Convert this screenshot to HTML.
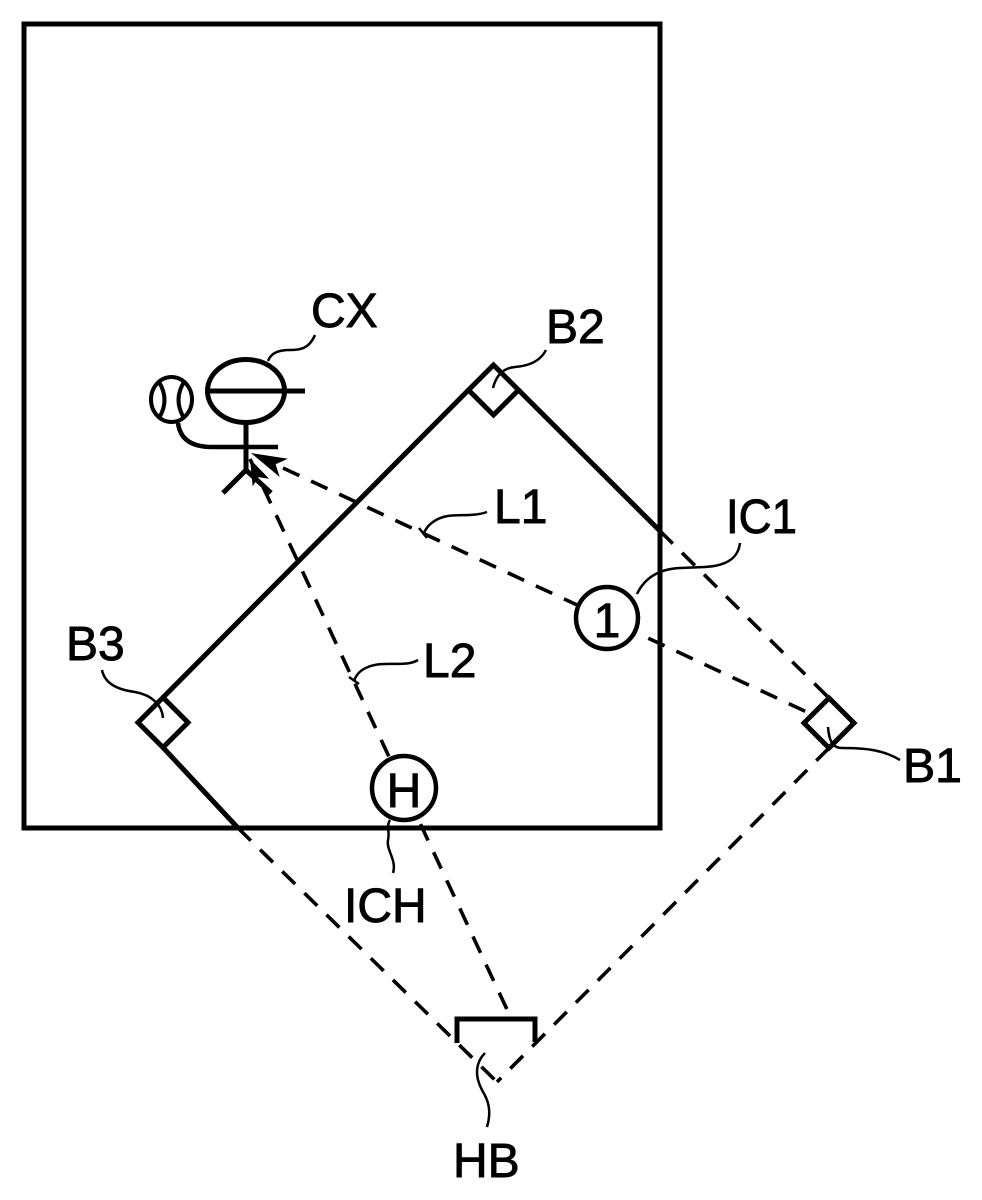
<!DOCTYPE html>
<html>
<head>
<meta charset="utf-8">
<style>
  html, body { margin: 0; padding: 0; background: #fff; }
  svg { display: block; }
  text { font-family: "Liberation Sans", "DejaVu Sans", sans-serif; font-size: 48px; fill: #000; stroke: #000; stroke-width: 0.9px; }
</style>
</head>
<body>
<svg width="982" height="1200" viewBox="0 0 982 1200" xmlns="http://www.w3.org/2000/svg">
  <rect x="0" y="0" width="982" height="1200" fill="#fff"/>

  <!-- dashed lines -->
  <g fill="none" stroke="#000" stroke-width="3.6" stroke-dasharray="18 13">
    <!-- L1 -->
    <line x1="283" y1="468" x2="811" y2="714"/>
    <!-- L2 -->
    <line x1="250" y1="459" x2="511" y2="1018"/>
    <!-- B2-B1 outside frame -->
    <line x1="660" y1="531" x2="829" y2="698"/>
    <!-- B3 - home -->
    <line x1="238" y1="828" x2="497" y2="1082"/>
    <!-- B1 - home -->
    <line x1="829" y1="748" x2="497" y2="1082"/>
  </g>

  <!-- frame -->
  <rect x="24" y="24" width="636" height="804" fill="none" stroke="#000" stroke-width="5"/>

  <!-- solid field lines -->
  <g fill="none" stroke="#000" stroke-width="5" stroke-linecap="butt">
    <line x1="468.5" y1="390" x2="163" y2="697.5"/>
    <line x1="163" y1="747.5" x2="238" y2="828"/>
    <line x1="518.5" y1="390" x2="660" y2="531"/>
  </g>

  <!-- bases -->
  <g fill="#fff" stroke="#000" stroke-width="5" stroke-linejoin="miter">
    <polygon points="493.5,365 518.5,390 493.5,415 468.5,390"/>
    <polygon points="163,697.5 188,722.5 163,747.5 138,722.5"/>
    <polygon points="829,698 854,723 829,748 804,723"/>
  </g>

  <!-- home plate bracket -->
  <path d="M457 1043 L457 1019 L535 1019 L535 1042" fill="none" stroke="#000" stroke-width="5"/>

  <!-- circles -->
  <circle cx="607" cy="618" r="31" fill="#fff" stroke="#000" stroke-width="4.5"/>
  <circle cx="404" cy="788" r="32" fill="#fff" stroke="#000" stroke-width="4.5"/>

  <!-- player figure -->
  <g fill="none" stroke="#000" stroke-width="5">
    <ellipse cx="246" cy="391" rx="38.5" ry="31.5"/>
    <line x1="207" y1="391" x2="305" y2="391"/>
    <line x1="246" y1="423" x2="246" y2="471"/>
    <line x1="246" y1="470" x2="223" y2="493"/>
    <line x1="246" y1="470" x2="271" y2="493"/>
    <path d="M178 423 Q181 447 212 447 L278 447" stroke-width="4.5"/>
  </g>
  <!-- ball -->
  <g fill="none" stroke="#000" stroke-width="4">
    <ellipse cx="171.5" cy="399.5" rx="20.5" ry="22.5"/>
    <path d="M159 382 Q170 400 159 418"/>
    <path d="M184 382 Q173 400 184 418"/>
  </g>

  <!-- arrowheads -->
  <polygon points="251,453 287.9,458.8 275.6,464.2 279.7,477" fill="#000"/>
  <polygon points="250,459 269.1,478.8 258.4,477.1 252.7,486.4" fill="#000"/>

  <!-- leader lines -->
  <g fill="none" stroke="#000" stroke-width="2.5">
    <!-- CX -->
    <path d="M315 335 C309 349, 300 350, 290 350 C278 350, 271 353, 268 361"/>
    <!-- B2 -->
    <path d="M546 350 C540 362, 528 366, 515 367 C503 368, 496 376, 493 388"/>
    <!-- IC1 -->
    <path d="M740 543 C738 560, 724 566, 705 567 L680 568 C660 569, 645 577, 637 594"/>
    <!-- B1 -->
    <path d="M900 760 C882 749, 862 748, 842 748 C832 748, 829 740, 828 727"/>
    <!-- B3 -->
    <path d="M102 670 C105 685, 120 690, 135 692 C152 695, 162 705, 163 718"/>
    <!-- L1 -->
    <path d="M487 512 C470 518, 452 512, 438 519 C430 523, 426 528, 424 533"/>
    <line x1="419" y1="528" x2="427" y2="538"/>
    <!-- L2 -->
    <path d="M418 660 C405 668, 385 660, 368 667 C360 670, 356 675, 354 681"/>
    <line x1="349" y1="677" x2="359" y2="684"/>
    <!-- ICH -->
    <path d="M393 873 C397 860, 386 850, 388 840 C390 832, 386 826, 390 820"/>
    <!-- HB -->
    <path d="M487 1127 C492 1110, 488 1100, 482 1090 C474 1075, 476 1062, 485 1053"/>
  </g>

  <!-- labels -->
  <text x="311" y="327">CX</text>
  <text x="546" y="343">B2</text>
  <text x="726" y="533" textLength="71" lengthAdjust="spacingAndGlyphs">IC1</text>
  <text x="903" y="782" textLength="59" lengthAdjust="spacingAndGlyphs">B1</text>
  <text x="66" y="660">B3</text>
  <text x="494" y="523">L1</text>
  <text x="423" y="677">L2</text>
  <text x="344" y="922">ICH</text>
  <text x="453" y="1177">HB</text>
  <text x="607" y="637" text-anchor="middle">1</text>
  <text x="404" y="807" text-anchor="middle">H</text>
</svg>
</body>
</html>
